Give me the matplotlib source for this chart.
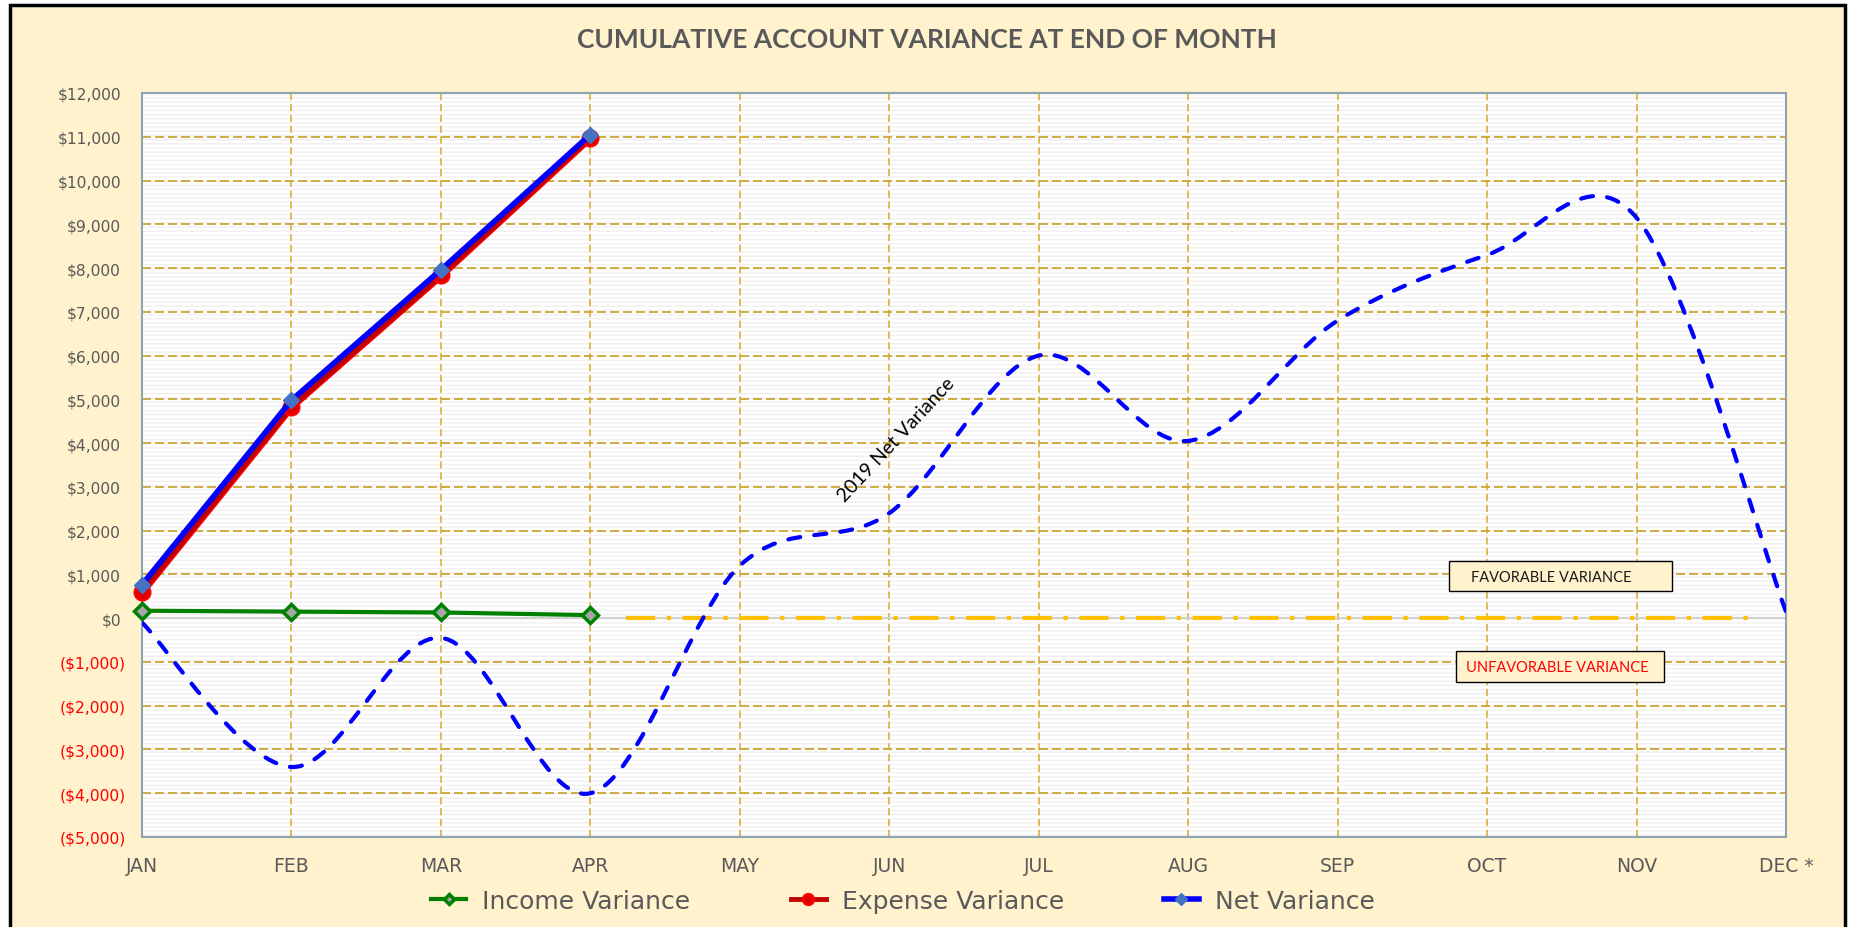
import numpy as np
import matplotlib.pyplot as plt
from matplotlib.path import Path
from matplotlib.patches import PathPatch, Rectangle

# chart values
months = ["JAN", "FEB", "MAR", "APR", "MAY", "JUN", "JUL", "AUG", "SEP", "OCT", "NOV", "DEC *"]
income_var = [170, 150, 130, 70]
expense_var = [595, 4830, 7830, 10980]
net_var = [765, 4980, 7960, 11050]
net_2019 = [-100, -3400, -450, -4000, 1200, 2400, 6000, 4050, 6800, 8300, 9150, 150]
y_ticks = list(range(-5000, 12001, 1000))

TITLE = "CUMULATIVE ACCOUNT VARIANCE AT END OF MONTH"
GREY = "#595959"


def money(v):
    return f"${v:,}" if v >= 0 else f"(${-v:,})"


def smooth_path(xs, ys):
    # Bezier curve through the points, like a spreadsheet "smoothed line"
    pts = np.column_stack([xs, ys]).astype(float)
    padded = np.vstack([pts[0], pts, pts[-1]])
    tang = (padded[2:] - padded[:-2]) / 2
    verts = [pts[0]]
    codes = [Path.MOVETO]
    for i in range(len(pts) - 1):
        verts += [pts[i] + tang[i] / 3, pts[i + 1] - tang[i + 1] / 3, pts[i + 1]]
        codes += [Path.CURVE4] * 3
    return Path(verts, codes)


W, H = 1853, 928
fig = plt.figure(figsize=(W / 100, H / 100), dpi=100)
fig.patch.set_facecolor("white")
fig.add_artist(Rectangle((10 / W, -0.05), 1835 / W, 1.05 - 6 / H, transform=fig.transFigure,
                         facecolor="#FFF2CC", edgecolor="black", linewidth=2.5, zorder=-10))

ax = fig.add_axes([142 / W, 1 - 838 / H, 1644 / W, 744 / H])
ax.set_facecolor("white")
ax.set_xlim(0, len(months) - 1)
ax.set_ylim(y_ticks[0], y_ticks[-1])
ax.set_axisbelow(True)

# faint striped fill of the plot area
ax.add_patch(Rectangle((0, 0), 1, 1, transform=ax.transAxes, facecolor="none",
                       edgecolor="#F0F0F0", hatch="----", linewidth=0, zorder=0.2))

ax.set_xticks(range(len(months)))
ax.set_xticklabels(months, fontsize=13.5, color=GREY)
ax.set_yticks(y_ticks)
ax.set_yticklabels([money(v) for v in y_ticks], fontsize=11.2)
ax.tick_params(length=0)
ax.tick_params(axis="x", pad=13.5)

ax.xaxis.grid(True, color="#DDB54A", linestyle=(0, (4, 2)), linewidth=1.3)
ax.yaxis.grid(True, color="#CDA532", linestyle=(0, (5, 2.2)), linewidth=1.3)
for tick, v in zip(ax.yaxis.get_major_ticks(), y_ticks):
    tick.label1.set_color(GREY if v >= 0 else "#FF0000")
    tick.set_pad(15.2 if v >= 0 else 11.5)
    if v in (0, y_ticks[0], y_ticks[-1]):
        tick.gridline.set_visible(False)

for s in ax.spines.values():
    s.set_color("#8EA4B5")
    s.set_linewidth(1.5)

ax.axhline(0, color="#D0D0D0", linewidth=1.5, zorder=1)

# favorable / unfavorable divide
divide_x = [3.24, 10.77]
ax.plot(divide_x, [0, 0], color="#FFC000", linewidth=3, linestyle=(0, (7, 2.8, 1, 2.8)),
        solid_capstyle="butt", zorder=2)

# last year's net variance, smoothed dashed line
ax.add_patch(PathPatch(smooth_path(range(len(net_2019)), net_2019), facecolor="none",
                       edgecolor="#0000FF", linewidth=3, linestyle=(0, (2.9, 3.4)),
                       capstyle="round", zorder=3))

x_cur = range(len(income_var))
l_inc, = ax.plot(x_cur, income_var, color="#008000", linewidth=3, marker="D", ms=8,
                 mfc="#A6A6A6", mec="#008000", mew=2.5, zorder=4, clip_on=False,
                 label="Income Variance")
ax.plot(x_cur, expense_var, color="#FF0000", linewidth=5.5, zorder=4.9, clip_on=False)
l_exp, = ax.plot(x_cur, expense_var, color="#C00000", linewidth=3.5, marker="o", ms=11.5,
                 mfc="#E00000", mec="#FF0000", mew=1.5, zorder=5, clip_on=False,
                 label="Expense Variance")
l_net, = ax.plot(x_cur, net_var, color="#0000FF", linewidth=4, marker="D", ms=8.5,
                 mfc="#4472C4", mec="#4472C4", mew=1, zorder=6, clip_on=False,
                 label="Net Variance")

ax.text(5.05, 4100, "2019 Net Variance", rotation=47, rotation_mode="anchor",
        ha="center", va="center", fontsize=14, family="Lato", color="black", zorder=7)

ax.add_patch(Rectangle((8.748, 615), 1.488, 699, facecolor="#FFF2CC", edgecolor="black",
                       linewidth=1, zorder=7))
ax.text(9.428, 935, "FAVORABLE VARIANCE", ha="center", va="center", fontsize=10.5,
        family="Lato", color="#1A1A1A", zorder=8)
ax.add_patch(Rectangle((8.793, -1465), 1.393, 709, facecolor="#FFF2CC", edgecolor="black",
                       linewidth=1, zorder=7))
ax.text(9.471, -1122, "UNFAVORABLE VARIANCE", ha="center", va="center", fontsize=10.5,
        family="Lato", color="#FF0000", zorder=8)

fig.text(0.5, 1 - 40 / H, TITLE, ha="center", va="center", fontsize=19,
         fontweight="bold", family="Lato", color=GREY)

fig.legend(handles=[l_inc, l_exp, l_net], loc="center", bbox_to_anchor=(903 / W, 1 - 902 / H),
           ncol=3, frameon=False, fontsize=18, handlelength=1.4, handletextpad=0.64,
           columnspacing=4.0, labelcolor=GREY, markerscale=0.7)

fig.savefig("out.png", dpi=100)
